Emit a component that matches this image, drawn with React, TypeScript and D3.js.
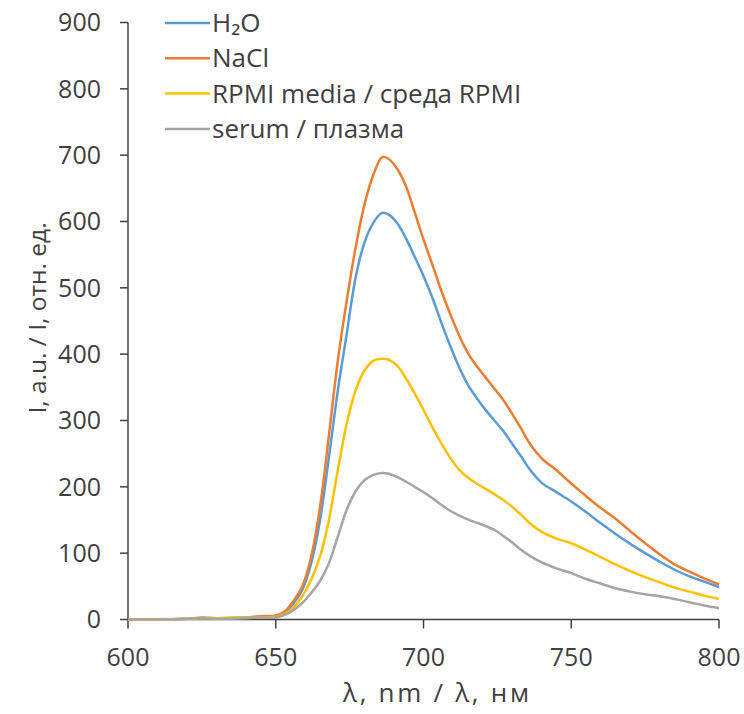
import React from "react";
import * as d3 from "d3";

const wavelengths = [600, 610, 620, 625, 630, 640, 645, 650, 653, 656, 659, 662, 665, 668, 671, 674, 677, 680, 683, 686, 688, 691, 694, 697, 700, 703, 706, 709, 712, 715, 718, 721, 724, 727, 730, 733, 736, 740, 745, 750, 755, 760, 765, 770, 775, 780, 785, 790, 795, 800];

const h2o = [0, 0, 1, 2, 2, 3, 4, 5, 10, 24, 45, 85, 150, 245, 345, 430, 515, 568, 598, 613, 611, 598, 575, 547, 518, 485, 448, 413, 381, 354, 334, 316, 300, 284, 265, 246, 226, 206, 192, 178, 162, 145, 129, 114, 100, 87, 75, 65, 57, 49];
const nacl = [0, 0, 1, 3, 2, 3, 5, 6, 12, 28, 50, 95, 170, 278, 390, 480, 560, 625, 670, 697, 695, 680, 654, 614, 573, 535, 496, 461, 429, 402, 382, 365, 348, 331, 310, 288, 265, 243, 225, 205, 186, 168, 152, 133, 115, 98, 83, 72, 62, 53];
const rpmi = [0, 0, 1, 2, 2, 3, 3, 4, 8, 18, 35, 60, 95, 150, 225, 295, 345, 375, 390, 393, 392, 383, 364, 341, 316, 290, 266, 244, 226, 214, 205, 197, 189, 180, 170, 158, 145, 132, 122, 115, 105, 94, 83, 73, 64, 56, 48, 42, 36, 31];
const serum = [0, 0, 1, 2, 1, 2, 3, 3, 7, 14, 25, 40, 58, 85, 125, 165, 193, 210, 218, 221, 220, 215, 208, 200, 192, 183, 173, 164, 157, 151, 146, 141, 135, 126, 116, 105, 96, 86, 77, 70, 61, 54, 47, 42, 38, 35, 31, 26, 21, 17];

const seriesNames = ["H\u2082O", "NaCl", "RPMI media / среда RPMI", "serum / плазма"];
const seriesColors = ["#5B9BD5", "#ED7D31", "#FFC000", "#A5A5A5"];
const seriesValues = [h2o, nacl, rpmi, serum];

const xTicks = [600, 650, 700, 750, 800];
const yTicks = [0, 100, 200, 300, 400, 500, 600, 700, 800, 900];
const xTitle = "λ, nm / λ, нм";
const yTitle = "I, a.u. / I, отн. ед.";

export default function App() {
  const W = 744, H = 714;
  const x = d3.scaleLinear().domain([600, 800]).range([128, 719]);
  const y = d3.scaleLinear().domain([0, 900]).range([619.5, 22.5]);
  const line = d3
    .line<[number, number]>()
    .x((d) => x(d[0]))
    .y((d) => y(d[1]))
    .curve(d3.curveCatmullRom.alpha(0.5));
  const font = "'Open Sans', sans-serif";
  const axisColor = "#404040";
  const textColor = "#404040";
  return (
    <svg width={W} height={H} style={{ position: "absolute", left: 0, top: 0, background: "#fff" }}>
      <rect x={0} y={0} width={W} height={H} fill="#fff" />
      <line x1={x(600)} x2={x(600)} y1={y(0)} y2={y(900)} stroke={axisColor} strokeWidth={1.5} />
      <line x1={x(600)} x2={x(800)} y1={y(0)} y2={y(0)} stroke={axisColor} strokeWidth={1.5} />
      {yTicks.map((t) => (
        <g key={"y" + t}>
          <line x1={x(600) - 8} x2={x(600)} y1={y(t)} y2={y(t)} stroke={axisColor} strokeWidth={1.5} />
          <text x={101} y={y(t)} dy="0.35em" textAnchor="end" fontFamily={font} fontSize={25} fill={textColor}>
            {t}
          </text>
        </g>
      ))}
      {xTicks.map((t) => (
        <g key={"x" + t}>
          <line x1={x(t)} x2={x(t)} y1={y(0)} y2={y(0) + 9} stroke={axisColor} strokeWidth={1.5} />
          <text x={x(t)} y={666} textAnchor="middle" fontFamily={font} fontSize={25} fill={textColor}>
            {t}
          </text>
        </g>
      ))}
      <text
        x={436}
        y={702}
        textAnchor="middle"
        fontFamily={font}
        fontSize={26}
        fill={textColor}
        textLength={186}
        lengthAdjust="spacing"
      >
        {xTitle}
      </text>
      <text
        transform={`translate(46, 318) rotate(-90)`}
        textAnchor="middle"
        fontFamily={font}
        fontSize={24.5}
        fill={textColor}
      >
        {yTitle}
      </text>
      {seriesValues.map((vals, i) => (
        <path
          key={"s" + i}
          d={line(wavelengths.map((w, j) => [w, vals[j]] as [number, number])) || ""}
          fill="none"
          stroke={seriesColors[i]}
          strokeWidth={2.5}
          strokeLinejoin="round"
        />
      ))}
      {seriesNames.map((n, i) => (
        <g key={"l" + i}>
          <line x1={165} x2={210} y1={23 + i * 35.3} y2={23 + i * 35.3} stroke={seriesColors[i]} strokeWidth={2.5} />
          <text x={212} y={23 + i * 35.3} dy="0.35em" fontFamily={font} fontSize={26} fill={textColor}>
            {n}
          </text>
        </g>
      ))}
    </svg>
  );
}
